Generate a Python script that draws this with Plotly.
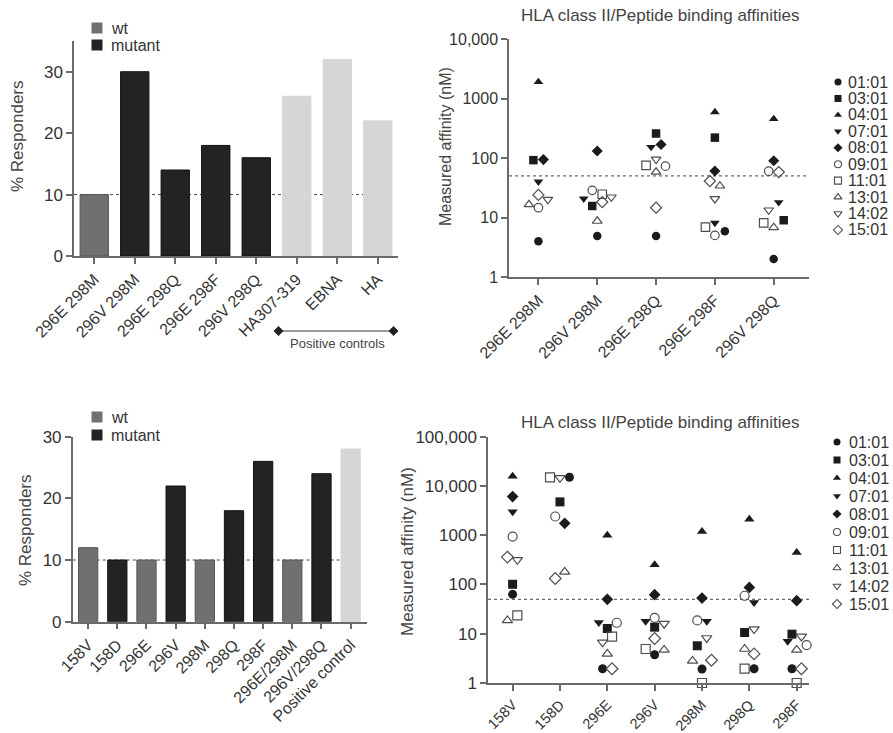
import plotly.graph_objects as go

W, H = 893, 733
FONT = "Liberation Sans, Arial, Helvetica, sans-serif"

# ---------------- data ----------------
# Top-left: % responders for double-mutant peptides and positive controls
tl_cats = ["296E 298M", "296V 298M", "296E 298Q", "296E 298F", "296V 298Q",
           "HA307-319", "EBNA", "HA"]
tl_vals = [10, 30, 14, 18, 16, 26, 32, 22]
tl_group = ["wt", "mutant", "mutant", "mutant", "mutant", "control", "control", "control"]

# Bottom-left: % responders for single and double substitutions
bl_cats = ["158V", "158D", "296E", "296V", "298M", "298Q", "298F",
           "296E/298M", "296V/298Q", "Positive control"]
bl_vals = [12, 10, 10, 22, 10, 18, 26, 10, 24, 28]
bl_group = ["wt", "mutant", "wt", "mutant", "wt", "mutant", "mutant", "wt", "mutant", "control"]

alleles = ["01:01", "03:01", "04:01", "07:01", "08:01",
           "09:01", "11:01", "13:01", "14:02", "15:01"]

# Top-right: measured affinity (nM) per allele, for each peptide
tr_cats = ["296E 298M", "296V 298M", "296E 298Q", "296E 298F", "296V 298Q"]
tr_vals = {
    "01:01": [4.0, 4.9, 4.9, 5.9, 2.0],
    "03:01": [92, 15.6, 258, 220, 9.0],
    "04:01": [1900, None, None, 592, 454],
    "07:01": [40, 20.7, 153, 8.1, 18],
    "08:01": [94, 131, 168, 60.5, 90],
    "09:01": [14.6, 28.6, 73, 5.0, 60],
    "11:01": [None, 24.6, 75, 6.9, 8.1],
    "13:01": [16.5, 8.7, 58, 34, 6.8],
    "14:02": [20, 22, 95, 20.7, 13.3],
    "15:01": [24, 18.2, 14.6, 41, 58],
}

# Bottom-right: measured affinity (nM) per allele, for each peptide
br_cats = ["158V", "158D", "296E", "296V", "298M", "298Q", "298F"]
br_vals = {
    "01:01": [63, 15000, 1.95, 3.75, 1.92, 1.95, 1.95],
    "03:01": [101, 4750, 12.8, 13.6, 5.7, 10.6, 9.8],
    "04:01": [15800, None, 1000, 251, 1190, 2100, 445],
    "07:01": [3000, None, 17, 18, 18, 43, 7.0],
    "08:01": [6100, 1740, 50, 62, 53, 87, 47],
    "09:01": [940, 2400, 16.7, 21, 18.6, 59, 5.9],
    "11:01": [23.5, 15000, 8.7, 4.9, 1.0, 1.95, 1.0],
    "13:01": [18.6, 180, 3.9, 4.7, 2.8, 4.9, 4.7],
    "14:02": [316, 14600, 6.7, 16, 8.2, 12.4, 8.8],
    "15:01": [360, 132, 1.95, 8.0, 2.9, 3.9, 1.95],
}

# ---------------- styling ----------------
# horizontal spread of overlapping points within a category (scatter-dot layout)
tr_spread = {
    "01:01": [0, 0, 0, 0.17, 0],
    "03:01": [-0.085, -0.085, 0, 0, 0.17],
    "04:01": [0, 0, 0, 0, 0],
    "07:01": [0, -0.23, -0.085, 0, 0.085],
    "08:01": [0.085, 0, 0.085, 0, 0],
    "09:01": [0, -0.085, 0.16, 0, -0.085],
    "11:01": [0, 0.085, -0.17, -0.16, -0.17],
    "13:01": [-0.16, 0, 0, 0.085, 0],
    "14:02": [0.16, 0.24, 0, 0, -0.085],
    "15:01": [0, 0.085, 0, -0.085, 0.085],
}
br_spread = {
    "01:01": [0, 0.2, -0.1, 0, 0, 0.1, -0.1],
    "03:01": [0, 0, 0, 0, -0.1, -0.1, -0.1],
    "04:01": [0, 0, 0, 0, 0, 0, 0],
    "07:01": [0, 0, -0.18, -0.19, 0.1, 0.1, -0.19],
    "08:01": [0, 0.1, 0, 0, 0, 0, 0],
    "09:01": [0, -0.1, 0.2, 0, -0.1, -0.1, 0.21],
    "11:01": [0.1, -0.21, 0.1, -0.19, 0, -0.1, 0],
    "13:01": [-0.11, 0.1, 0, 0.2, -0.2, -0.1, 0],
    "14:02": [0.1, 0, -0.1, 0.2, 0.1, 0.1, 0.1],
    "15:01": [-0.11, -0.1, 0.1, 0, 0.2, 0.1, 0.1],
}

SYMBOL = {"01:01": "circle", "03:01": "square", "04:01": "triangle-up",
          "07:01": "triangle-down", "08:01": "diamond", "09:01": "circle-open",
          "11:01": "square-open", "13:01": "triangle-up-open",
          "14:02": "triangle-down-open", "15:01": "diamond-open"}
FILLED_COLOR = "#1b1b1b"
OPEN_COLOR = "#4d4d4d"

GROUP_FILL = {"wt": "#707070", "mutant": "#232323", "control": "#d6d6d6"}
GROUP_EDGE = {"wt": "#555555", "mutant": "#111111", "control": "#d6d6d6"}

AXIS_COLOR = "#6a6a6a"
TEXT_COLOR = "#333333"


def px_x(p):
    return p / W


def px_y(p):
    return 1 - p / H


fig = go.Figure()


def add_bars(vals, groups, xa, ya, width):
    fig.add_trace(go.Bar(
        x=list(range(len(vals))), y=vals, width=width,
        marker=dict(color=[GROUP_FILL[g] for g in groups],
                    line=dict(color=[GROUP_EDGE[g] for g in groups], width=1)),
        xaxis=xa, yaxis=ya, showlegend=False, hoverinfo="skip"))


def add_affinity(vals, spread, xa, ya, size):
    for a in alleles:
        xs, ys = [], []
        for i, v in enumerate(vals[a]):
            if v is None:
                continue
            xs.append(i + spread[a][i])
            ys.append(v)
        is_open = SYMBOL[a].endswith("open")
        fig.add_trace(go.Scatter(
            x=xs, y=ys, mode="markers", xaxis=xa, yaxis=ya, name=a,
            showlegend=False, cliponaxis=False, hoverinfo="skip",
            marker=dict(symbol=SYMBOL[a], size=size,
                        color=OPEN_COLOR if is_open else FILLED_COLOR,
                        line=dict(width=1.2 if is_open else 0,
                                  color=OPEN_COLOR if is_open else FILLED_COLOR))))


def add_key(labels, symbols, colors, xa, ya, size, shift, fsize, is_open):
    rows = list(range(len(labels)))
    fig.add_trace(go.Scatter(
        x=[0] * len(labels), y=rows, mode="markers", xaxis=xa, yaxis=ya,
        showlegend=False, hoverinfo="skip", cliponaxis=False,
        marker=dict(symbol=symbols, size=size, color=colors,
                    line=dict(width=[1.1 if o else 0 for o in is_open], color=colors))))
    for r, lab in zip(rows, labels):
        fig.add_annotation(x=0, y=r, xref=xa, yref=ya, text=lab, showarrow=False,
                           xanchor="left", yanchor="middle", xshift=shift,
                           font=dict(size=fsize, color=TEXT_COLOR, family=FONT))


# bars
add_bars(tl_vals, tl_group, "x", "y", 0.7)
add_bars(bl_vals, bl_group, "x3", "y3", 0.66)
# affinity scatter
add_affinity(tr_vals, tr_spread, "x2", "y2", 8.5)
add_affinity(br_vals, br_spread, "x4", "y4", 9)

# keys
bar_labels = ["wt", "mutant"]
bar_cols = [GROUP_FILL["wt"], GROUP_FILL["mutant"]]
add_key(bar_labels, ["square", "square"], bar_cols, "x5", "y5", 11, 12, 16, [False, False])
add_key(bar_labels, ["square", "square"], bar_cols, "x7", "y7", 11, 12, 16, [False, False])
key_syms = [SYMBOL[a] for a in alleles]
key_cols = [OPEN_COLOR if SYMBOL[a].endswith("open") else FILLED_COLOR for a in alleles]
key_open = [SYMBOL[a].endswith("open") for a in alleles]
add_key(alleles, key_syms, key_cols, "x6", "y6", 7, 8, 16, key_open)
add_key(alleles, key_syms, key_cols, "x8", "y8", 7, 10, 16, key_open)


def x_axis(domain, rng, cats, anchor, fsize=16):
    return dict(domain=domain, range=rng, anchor=anchor, tickmode="array",
                tickvals=list(range(len(cats))), ticktext=cats, tickangle=-45,
                showline=True, linecolor=AXIS_COLOR, linewidth=1.5,
                ticks="outside", ticklen=6, tickwidth=1.5, tickcolor=AXIS_COLOR,
                showgrid=False, zeroline=False, automargin=False,
                tickfont=dict(size=fsize, color=TEXT_COLOR, family=FONT))


def y_axis(domain, rng, anchor, tickvals, ticktext=None, log=False, fsize=17):
    d = dict(domain=domain, range=rng, anchor=anchor, tickmode="array",
             tickvals=tickvals, showline=True, linecolor=AXIS_COLOR, linewidth=1.5,
             ticks="outside", ticklen=6, tickwidth=1.5, tickcolor=AXIS_COLOR,
             showgrid=False, zeroline=False, automargin=False,
             tickfont=dict(size=fsize, color=TEXT_COLOR, family=FONT))
    if ticktext is not None:
        d["ticktext"] = ticktext
    if log:
        d["type"] = "log"
    return d


def hidden_axis(domain, rng, anchor):
    return dict(domain=domain, range=rng, anchor=anchor, visible=False,
                showgrid=False, zeroline=False, fixedrange=True, automargin=False)


fig.update_layout(
    width=W, height=H, margin=dict(l=0, r=0, t=0, b=0, autoexpand=False),
    paper_bgcolor="white", plot_bgcolor="white",
    font=dict(family=FONT, color=TEXT_COLOR),
    showlegend=False,
    # top-left bars
    xaxis=x_axis([px_x(74), px_x(398)], [-0.5, 7.5], tl_cats, "y"),
    yaxis=y_axis([px_y(256), px_y(41)], [0, 35], "x", [0, 10, 20, 30]),
    # top-right affinities
    xaxis2=x_axis([px_x(509), px_x(809)], [-0.5, 4.6], tr_cats, "y2"),
    yaxis2=y_axis([px_y(277), px_y(39)], [0, 4], "x2",
                  [1, 10, 100, 1000, 10000], ["1", "10", "100", "1000", "10,000"],
                  log=True, fsize=16),
    # bottom-left bars
    xaxis3=x_axis([px_x(72.7), px_x(366.7)], [-0.53, 9.55], bl_cats, "y3"),
    yaxis3=y_axis([px_y(621.7), px_y(436.7)], [0, 30], "x3", [0, 10, 20, 30]),
    # bottom-right affinities
    xaxis4=x_axis([px_x(488), px_x(809)], [-0.52, 6.26], br_cats, "y4", fsize=14.5),
    yaxis4=y_axis([px_y(683), px_y(436.7)], [0, 5], "x4",
                  [1, 10, 100, 1000, 10000, 100000],
                  ["1", "10", "100", "1000", "10,000", "100,000"], log=True),
    # keys
    xaxis5=hidden_axis([px_x(87), px_x(107)], [-1, 1], "y5"),
    yaxis5=hidden_axis([px_y(53.5), px_y(19.5)], [1.5, -0.5], "x5"),
    xaxis6=hidden_axis([px_x(828), px_x(848)], [-1, 1], "y6"),
    yaxis6=hidden_axis([px_y(238.2), px_y(73.8)], [9.5, -0.5], "x6"),
    xaxis7=hidden_axis([px_x(87), px_x(107)], [-1, 1], "y7"),
    yaxis7=hidden_axis([px_y(444), px_y(408)], [1.5, -0.5], "x7"),
    xaxis8=hidden_axis([px_x(827), px_x(847)], [-1, 1], "y8"),
    yaxis8=hidden_axis([px_y(613), px_y(433)], [9.5, -0.5], "x8"),
)

dash = dict(color="#444444", width=1, dash="3px,3px")
# 10% responder threshold
fig.add_shape(type="line", xref="x", yref="y", x0=-0.5, x1=6.65, y0=10, y1=10,
              line=dash, layer="below")
fig.add_shape(type="line", xref="x3", yref="y3", x0=-0.53, x1=8.67, y0=10, y1=10,
              line=dash, layer="below")
# 50 nM binding threshold
fig.add_shape(type="line", xref="x2", yref="y2", x0=-0.5, x1=4.6, y0=50, y1=50,
              line=dash, layer="below")
fig.add_shape(type="line", xref="x4", yref="y4", x0=-0.52, x1=6.26, y0=50, y1=50,
              line=dash, layer="below")

# "Positive controls" bracket under the control bars
bracket_y = px_y(331)
fig.add_shape(type="line", xref="x", yref="paper", x0=4.55, x1=7.39,
              y0=bracket_y, y1=bracket_y, line=dict(color="#333333", width=1))
for xa in (4.55, 7.39):
    fig.add_shape(type="path", xref="x", yref="paper", xsizemode="pixel",
                  ysizemode="pixel", xanchor=xa, yanchor=bracket_y,
                  path="M -5 0 L 0 -5 L 5 0 L 0 5 Z",
                  fillcolor="#222222", line=dict(width=0))
fig.add_annotation(x=6, y=px_y(343), xref="x", yref="paper", text="Positive controls",
                   showarrow=False, xanchor="center", yanchor="middle",
                   font=dict(size=13, color="#444444", family=FONT))

# panel titles
for ty in (15.5, 422):
    fig.add_annotation(x=px_x(660), y=px_y(ty), xref="paper", yref="paper",
                       text="HLA class II/Peptide binding affinities", showarrow=False,
                       xanchor="center", yanchor="middle",
                       font=dict(size=17, color="#444444", family=FONT))

# y-axis titles
for (tx, ty, txt, fs) in [(17, 136, "% Responders", 17),
                          (25, 530, "% Responders", 17),
                          (445, 147, "Measured affinity (nM)", 16),
                          (407, 552, "Measured affinity (nM)", 17)]:
    fig.add_annotation(x=px_x(tx), y=px_y(ty), xref="paper", yref="paper", text=txt,
                       textangle=-90, showarrow=False, xanchor="center",
                       yanchor="middle", font=dict(size=fs, color="#444444", family=FONT))

fig.write_html("out.html")
